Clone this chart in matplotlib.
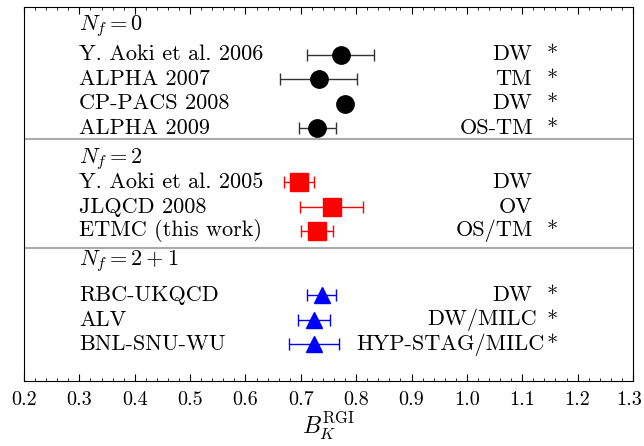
import matplotlib
matplotlib.use('Agg')
import matplotlib.pyplot as plt
import matplotlib.transforms as mtransforms
from matplotlib.ticker import MultipleLocator

plt.rcParams['font.family'] = 'serif'
plt.rcParams['font.serif'] = ['cmr10']
plt.rcParams['mathtext.fontset'] = 'cm'
plt.rcParams['axes.formatter.use_mathtext'] = True

## DADOS
headers = ['$N_f=0$', '$N_f=2$', '$N_f=2+1$']

nf0_names = ['Y. Aoki et al. 2006', 'ALPHA 2007', 'CP-PACS 2008', 'ALPHA 2009']
nf0_val = [0.772, 0.732, 0.779, 0.730]
nf0_err = [0.060, 0.070, 0.005, 0.033]
nf0_method = ['DW', 'TM', 'DW', 'OS-TM']
nf0_star = [True, True, True, True]

nf2_names = ['Y. Aoki et al. 2005', 'JLQCD 2008', 'ETMC (this work)']
nf2_val = [0.697, 0.756, 0.729]
nf2_err = [0.027, 0.057, 0.029]
nf2_method = ['DW', 'OV', 'OS/TM']
nf2_star = [False, False, True]

nf21_names = ['RBC-UKQCD', 'ALV', 'BNL-SNU-WU']
nf21_val = [0.738, 0.724, 0.724]
nf21_err = [0.026, 0.029, 0.045]
nf21_method = ['DW', 'DW/MILC', 'HYP-STAG/MILC']
nf21_star = [True, True, True]

# posicoes verticais (linhas da tabela)
header_y = [0.78, 6.2, 10.4]
row_y = [[1.95, 2.95, 3.95, 4.95], [7.15, 8.2, 9.15], [11.8, 12.8, 13.8]]
sep_y = [5.4, 9.85]

groups = [
    (nf0_names, nf0_val, nf0_err, nf0_method, nf0_star, 'o', 'black', '#333333', 12.5),
    (nf2_names, nf2_val, nf2_err, nf2_method, nf2_star, 's', 'red', 'red', 12.5),
    (nf21_names, nf21_val, nf21_err, nf21_method, nf21_star, '^', 'blue', 'blue', 11.5),
]

fs = 16

fig = plt.figure(figsize=(6.44, 4.46), dpi=100)
ax = fig.add_axes([24 / 644, 65 / 446, 609 / 644, 374 / 446])
ax.set_xlim(0.2, 1.3)
ax.set_ylim(15.3, 0)

method_texts = []
for i, (names, vals, errs, methods, stars, mk, col, ecol, ms) in enumerate(groups):
    ys = row_y[i]
    ax.errorbar(vals, ys, xerr=errs, fmt=mk, color=col, ecolor=ecol, ms=ms,
                elinewidth=1, capsize=4, capthick=1, zorder=3)
    ax.text(0.3, header_y[i], headers[i], fontsize=fs, va='center', ha='left')
    for name, m, s, y in zip(names, methods, stars, ys):
        ax.text(0.3, y, name, fontsize=fs, va='center', ha='left')
        method_texts.append(ax.text(1.118, y, m, fontsize=fs, va='center', ha='right'))
        if s:
            ax.text(1.154, y, '*', fontsize=fs, va='center', ha='center')

for y in sep_y:
    ax.axhline(y, color='#aaaaaa', lw=1.5, zorder=1)

ax.set_yticks([])
ax.xaxis.set_major_locator(MultipleLocator(0.1))
ax.xaxis.set_minor_locator(MultipleLocator(0.02))
ax.tick_params(axis='x', which='both', direction='in', top=True, labelsize=14.5, pad=7)
ax.tick_params(axis='x', which='major', length=5)
ax.tick_params(axis='x', which='minor', length=2.5)
ax.set_xticklabels([f'{v:.1f}' for v in ax.get_xticks()])
ax.set_xlabel(r'$B_K^{\rm RGI}$', fontsize=17, labelpad=1)

# nomes longos empurram um pouco para a direita
fig.canvas.draw()
px_per_unit = ax.get_window_extent().width / 1.1
for t in method_texts:
    w = t.get_window_extent().width / px_per_unit
    t.set_x(1.118 + 0.1 * max(0, w - 0.12))

# ultimo rotulo encosta na borda
ticks = [t for t in ax.xaxis.get_major_ticks() if abs(t.get_loc() - 1.3) < 1e-6]
for t in ticks:
    t.label1.set_transform(t.label1.get_transform() + mtransforms.ScaledTranslation(-3 / 72, 0, fig.dpi_scale_trans))

fig.savefig('out.png', dpi=100)
